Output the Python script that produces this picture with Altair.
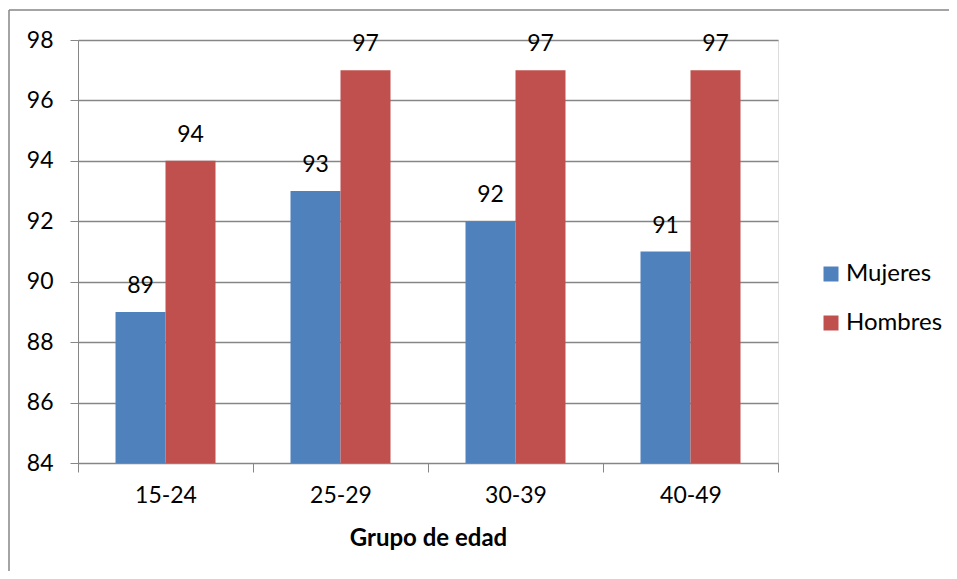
import altair as alt
import pandas as pd

grupos = ["15-24", "25-29", "30-39", "40-49"]
mujeres = [89, 93, 92, 91]
hombres = [94, 97, 97, 97]
series = ["Mujeres", "Hombres"]
colores = ["#4F81BD", "#C0504D"]

rows = []
for g, m, h in zip(grupos, mujeres, hombres):
    rows.append({"grupo": g, "sexo": "Mujeres", "valor": m})
    rows.append({"grupo": g, "sexo": "Hombres", "valor": h})
df = pd.DataFrame(rows)

FONT = "Lato"
NUM = 23
WORD = 24

x = alt.X("grupo:N", sort=grupos, title="Grupo de edad",
          scale=alt.Scale(paddingInner=0, paddingOuter=0),
          axis=alt.Axis(labelAngle=0, tickBand="extent", domainColor="#868686",
                        tickColor="#868686", tickSize=9, labelPadding=12,
                        labelFontSize=NUM, labelFont=FONT, labelColor="#000000",
                        titleFontSize=WORD, titleFont=FONT, titleFontWeight="bold",
                        titleColor="#000000", titlePadding=19, grid=False))
xo = alt.XOffset("sexo:N", sort=series,
                 scale=alt.Scale(paddingOuter=0.75, paddingInner=0))
y = alt.Y("valor:Q", title=None,
          scale=alt.Scale(domain=[84, 98], nice=False, zero=False),
          axis=alt.Axis(values=list(range(84, 99, 2)), grid=True,
                        gridColor="#868686", gridWidth=1.5,
                        domainColor="#868686", tickColor="#868686", tickSize=8,
                        labelPadding=17, labelFontSize=NUM, labelFont=FONT,
                        labelColor="#000000"))
color = alt.Color("sexo:N", sort=series,
                  scale=alt.Scale(domain=series, range=colores),
                  legend=alt.Legend(title=None, orient="none", legendX=741, legendY=222,
                                    symbolType="square", symbolSize=225,
                                    symbolStrokeWidth=0, labelFontSize=WORD,
                                    labelFont=FONT, labelColor="#000000",
                                    labelOffset=3, rowPadding=25, padding=0))

base = alt.Chart(df)
bars = base.mark_bar(clip=True).encode(x=x, xOffset=xo, y=y, y2=alt.datum(84), color=color)
labels = base.mark_text(baseline="alphabetic", dy=-19, fontSize=NUM, font=FONT,
                        color="#000000").encode(
    x=alt.X("grupo:N", sort=grupos), xOffset=xo, y="valor:Q", text="valor:Q")
one = pd.DataFrame({"a": [0]})
frame_top = alt.Chart(one).mark_rule(stroke="#868686", strokeWidth=1.5).encode(
    x=alt.value(-69), x2=alt.value(3000), y=alt.value(-30))
frame_left = alt.Chart(one).mark_rule(stroke="#868686", strokeWidth=1.5).encode(
    x=alt.value(-69), y=alt.value(-30), y2=alt.value(3000))

chart = alt.layer(frame_top, frame_left, bars, labels).properties(
    width=700, height=423,
    padding={"left": 70, "top": 32, "right": 171, "bottom": 108},
    autosize=alt.AutoSizeParams(type="none"),
).configure_view(stroke=None).configure(background="white")

chart.save("out.html", embed_options={"renderer": "svg", "actions": False})
